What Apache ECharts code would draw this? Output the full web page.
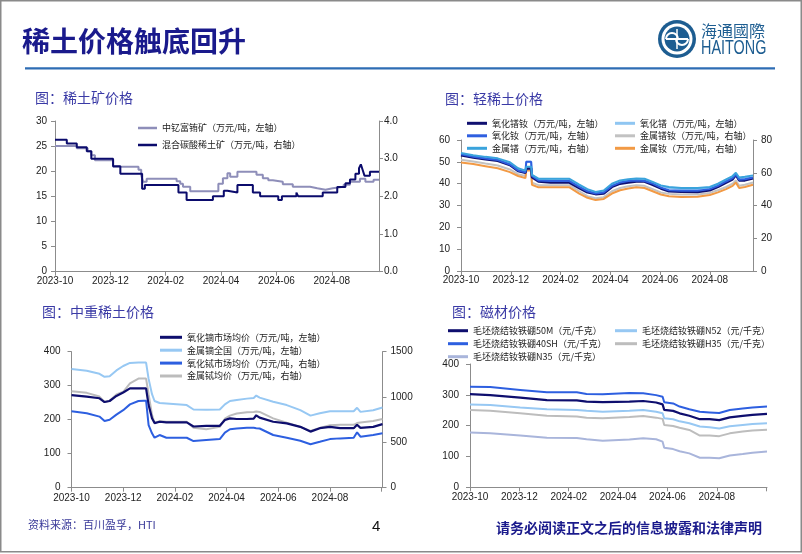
<!DOCTYPE html>
<html><head><meta charset="utf-8">
<script src="https://cdn.jsdelivr.net/npm/echarts@6/dist/echarts.min.js"></script>
<style>html,body{margin:0;padding:0;background:#fff}#c{width:802px;height:554px}</style>
</head><body><div id="c"></div>
<script>
// x values are days since 2023-10-01
const xTickLabels = ['2023-10','2023-12','2024-02','2024-04','2024-06','2024-08'];
const TICK_DAYS = 61;

// ---- Chart 1: 稀土矿价格 ----
const oreDaysA = [0, 24, 36, 40, 44, 64, 92, 95, 97, 101, 134, 138, 141, 149, 174, 180, 185, 190, 193, 201, 218, 222, 229, 235, 240, 251, 262, 278, 281, 289, 298, 300, 306, 318, 325, 336, 342, 351, 357];
const oreYttriumEu = [25, 24.6, 24, 23.2, 22.2, 20.9, 20.3, 19.2, 17.9, 18.5, 18.0, 17.5, 16.9, 16.0, 16.0, 17.5, 18.6, 19.6, 18.9, 19.9, 19.9, 19.3, 18.6, 18.2, 17.9, 17.4, 16.9, 16.9, 16.6, 16.3, 16.3, 16.6, 16.9, 17.3, 17.9, 18.5, 17.9, 18.3, 18.3];
const oreDaysB = [0, 13, 24, 35, 40, 64, 72, 96, 99, 136, 145, 174, 186, 190, 201, 218, 226, 246, 250, 266, 268, 295, 311, 320, 325, 331, 335, 337, 339, 341, 347, 357];
const oreMixedCarbonate = [3.5, 3.4, 3.3, 3.2, 3.0, 2.8, 2.6, 2.2, 2.3, 2.1, 1.9, 2.0, 2.15, 2.1, 2.3, 2.1, 2.0, 1.9, 2.0, 2.1, 2.0, 2.1, 2.25, 2.35, 2.45, 2.6, 2.75, 2.85, 2.7, 2.55, 2.65, 2.65];

// ---- Chart 2: 轻稀土价格 ----
const lightDays = [0, 15, 30, 45, 60, 70, 79, 80, 86, 87, 95, 110, 133, 145, 155, 165, 175, 185, 195, 205, 215, 225, 235, 245, 255, 270, 290, 305, 315, 325, 333, 337, 341, 348, 358];
const prNdOxide = [53, 52, 51.2, 50.5, 48.5, 45.8, 45, 47, 47, 43, 41, 40.5, 40.5, 38, 36, 35.2, 35.5, 38.5, 40, 40.5, 41, 41, 39.5, 37.8, 36.5, 36.3, 36.2, 37, 38.5, 40.5, 42, 44, 41.5, 41.5, 42.5];
const prOxide = [53.5, 52.5, 51.8, 51, 49, 46.5, 45.5, 50, 50, 44, 42, 41.8, 41.8, 39, 37, 36, 36.5, 39.5, 41, 41.5, 42, 41.8, 40.5, 39, 38, 37.5, 37.5, 38, 39.5, 41.5, 43, 44.5, 42.5, 42.5, 43];
const ndOxide = [53.5, 52.3, 51.5, 50.8, 48.8, 46, 45.2, 50, 50, 43.5, 41.5, 41.2, 41.2, 38.5, 36.5, 35.5, 36, 39, 40.5, 41.2, 41.5, 41.2, 40, 38.2, 37, 36.8, 36.8, 37.5, 39, 41, 42.5, 44.3, 41.8, 42, 42.8];
const prNdMetal = [68, 66.9, 65.6, 64.4, 62, 59.1, 58, 62, 62, 54, 52.4, 52.4, 52.4, 48.7, 45.7, 44.4, 45.1, 48.7, 50.7, 51.7, 52.4, 52, 50, 48, 47.1, 46.7, 46.7, 47.7, 49.3, 51.3, 53.3, 55.3, 52, 52.7, 54];
const prMetal = [72, 70.7, 69.7, 68.8, 66.4, 62.7, 61.3, 63.7, 63.7, 58.7, 56.4, 56.3, 56.3, 52.7, 50, 48.3, 49.1, 53.3, 55.3, 56, 56.5, 56.3, 54.4, 52.3, 51.3, 50.7, 50.7, 51.3, 53.3, 56, 58, 60, 57.1, 57.6, 58.4];
const ndMetal = [66.3, 65.3, 64, 62.7, 60.4, 58, 56.7, 61.3, 61.3, 52.7, 51.1, 51.1, 51.1, 47.3, 44.7, 43.3, 44, 47.3, 49.3, 50.4, 51.1, 50.7, 48.7, 46.7, 45.6, 45.2, 45.3, 46.4, 48, 50, 52, 54, 50.7, 51.3, 52.7];

// ---- Chart 3: 中重稀土价格 ----
const heavyDays = [0, 18, 33, 39, 45, 53, 61, 69, 79, 85, 88, 91, 95, 98, 104, 112, 136, 144, 159, 175, 181, 187, 195, 207, 215, 218, 222, 238, 254, 270, 282, 293, 305, 317, 333, 337, 341, 356, 367];
const dyOxide = [272, 268, 263, 252, 255, 270, 280, 292, 292, 292, 292, 243, 204, 190, 194, 192, 192, 180, 182, 182, 199, 204, 202, 202, 203, 213, 206, 194, 189, 179, 165, 175, 179, 175, 175, 185, 176, 179, 187];
const dyMetal = [349, 344, 335, 326, 328, 345, 358, 367, 368, 368, 368, 320, 275, 255, 249, 248, 243, 230, 229, 230, 245, 255, 258, 262, 264, 271, 265, 253, 243, 228, 212, 219, 225, 225, 225, 235, 223, 228, 236];
const tbOxide = [844, 821, 784, 735, 750, 806, 855, 919, 956, 960, 960, 690, 600, 551, 581, 551, 551, 514, 525, 536, 608, 645, 653, 660, 660, 656, 653, 581, 551, 518, 480, 506, 536, 544, 551, 611, 563, 581, 600];
const tbMetal = [1065, 1046, 1005, 945, 960, 1028, 1058, 1151, 1204, 1204, 1204, 1031, 803, 713, 735, 728, 728, 660, 645, 671, 761, 795, 818, 833, 836, 840, 836, 765, 716, 671, 626, 660, 690, 694, 694, 713, 720, 735, 758];

// ---- Chart 4: 磁材价格 ----
const magnetDays = [0, 25, 62, 95, 132, 144, 164, 197, 214, 230, 238, 240, 251, 259, 271, 284, 296, 308, 321, 337, 349, 367];
const mag50M = [302, 299, 291, 283, 282, 278, 276, 278, 280, 275, 269, 251, 248, 240, 232, 221, 221, 218, 227, 232, 235, 238];
const magN52 = [269, 267, 259, 253, 251, 248, 245, 248, 251, 245, 240, 224, 221, 214, 208, 197, 195, 191, 198, 202, 205, 208];
const mag40SH = [326, 325, 316, 308, 308, 303, 302, 306, 305, 299, 294, 276, 272, 262, 253, 245, 243, 241, 251, 256, 259, 262];
const magH35 = [251, 248, 240, 232, 230, 226, 224, 228, 231, 226, 222, 202, 199, 193, 186, 168, 168, 166, 175, 181, 184, 187];
const magN35 = [178, 175, 168, 161, 160, 156, 151, 155, 159, 156, 148, 128, 124, 117, 110, 96, 96, 94, 103, 108, 112, 116];

const NUM_FONT = '"Liberation Sans", Arial, sans-serif';
const CJK = '"Noto Sans CJK SC", sans-serif';
const AX = '#8c8c8c';

function pairs(days, vals) { return days.map((d, i) => [d, vals[i]]); }

function xAxis(gi, max, margin) {
  return {
    type: 'value', gridIndex: gi, min: 0, max: max, interval: TICK_DAYS,
    axisLine: { show: true, onZero: false, lineStyle: { color: AX, width: 1 } },
    axisTick: { show: true, length: 4, lineStyle: { color: AX } },
    splitLine: { show: false },
    axisLabel: {
      margin: margin, fontSize: 10, color: '#222', fontFamily: NUM_FONT, showMaxLabel: false,
      formatter: function (v) {
        const i = Math.round(v / TICK_DAYS);
        return Math.abs(v - i * TICK_DAYS) < 0.01 ? (xTickLabels[i] || '') : '';
      }
    }
  };
}
function yAxis(gi, pos, max, interval, margin, fmt) {
  return {
    type: 'value', gridIndex: gi, position: pos, min: 0, max: max, interval: interval,
    axisLine: { show: true, lineStyle: { color: AX, width: 1 } },
    axisTick: { show: true, length: 4, lineStyle: { color: AX } },
    splitLine: { show: false },
    axisLabel: { margin: margin, fontSize: 10, color: '#222', fontFamily: NUM_FONT, formatter: fmt || (v => String(v)) }
  };
}
function line(name, xi, yi, data, color, width, step) {
  return {
    type: 'line', name: name, xAxisIndex: xi, yAxisIndex: yi, data: data,
    showSymbol: false, symbol: 'none', step: step || false,
    lineStyle: { color: color, width: width }, itemStyle: { color: color },
    emphasis: { disabled: true }, silent: true
  };
}
function legend(left, top, gap, w, h, names) {
  return {
    left: left, top: top, orient: 'vertical', itemGap: gap, itemWidth: w, itemHeight: h,
    icon: 'rect', padding: 0, selectedMode: false, data: names,
    textStyle: { fontSize: 9, lineHeight: 11, color: '#222', fontFamily: CJK }
  };
}

const N1A = '中钇富铕矿（万元/吨，左轴）', N1B = '混合碳酸稀土矿（万元/吨，右轴）';
const N2 = ['氧化镨钕（万元/吨，左轴）', '氧化镨（万元/吨，左轴）', '氧化钕（万元/吨，左轴）', '金属镨钕（万元/吨，右轴）', '金属镨（万元/吨，右轴）', '金属钕（万元/吨，右轴）'];
const N3 = ['氧化镝市场均价（万元/吨，左轴）', '金属镝全国（万元/吨，左轴）', '氧化铽市场均价（万元/吨，右轴）', '金属铽均价（万元/吨，右轴）'];
const N4 = ['毛坯烧结钕铁硼50M（元/千克）', '毛坯烧结钕铁硼N52（元/千克）', '毛坯烧结钕铁硼40SH（元/千克）', '毛坯烧结钕铁硼H35（元/千克）', '毛坯烧结钕铁硼N35（元/千克）'];

const NAVY = '#0e0e6e', LBLUE = '#97c8f3', BLUE = '#2d5fe0', GRAY = '#bcbcbc';

const titleStyle = { fontSize: 14, fontFamily: CJK, fill: '#3a3aa6', textVerticalAlign: 'middle' };

const option = {
  animation: false,
  backgroundColor: '#fff',
  grid: [
    { left: 55, top: 121, width: 324, height: 150.7, outerBoundsMode: 'none' },
    { left: 461, top: 140, width: 292, height: 131, outerBoundsMode: 'none' },
    { left: 71.5, top: 351.7, width: 311, height: 136, outerBoundsMode: 'none' },
    { left: 470, top: 364, width: 297, height: 123.3, outerBoundsMode: 'none' }
  ],
  xAxis: [xAxis(0, 357, 5), xAxis(1, 358, 4), xAxis(2, 367, 6), xAxis(3, 367, 5)],
  yAxis: [
    yAxis(0, 'left', 30, 5, 8),
    yAxis(0, 'right', 4, 1, 5, v => v.toFixed(1)),
    yAxis(1, 'left', 60, 10, 11),
    yAxis(1, 'right', 80, 20, 8),
    yAxis(2, 'left', 400, 100, 11),
    yAxis(2, 'right', 1500, 500, 8),
    yAxis(3, 'left', 400, 100, 11)
  ],
  legend: [
    legend(138, 122.5, 6, 19, 2.5, [N1A, N1B]),
    legend(467, 117.8, 1.5, 20, 3, [N2[0], N2[2], N2[4]]),
    legend(615, 117.8, 1.5, 20, 3, [N2[1], N2[3], N2[5]]),
    legend(160, 331.8, 1.9, 22, 3, N3),
    legend(448, 325.2, 2, 20, 3, [N4[0], N4[2], N4[4]]),
    legend(615, 325.2, 2, 22, 3, [N4[1], N4[3]])
  ],
  series: [
    line(N1A, 0, 0, pairs(oreDaysA, oreYttriumEu), '#8e8eb9', 2, 'end'),
    line(N1B, 0, 1, pairs(oreDaysB, oreMixedCarbonate), '#0b0b6c', 2, 'end'),

    line(N2[1], 1, 2, pairs(lightDays, prOxide), '#8fc6f2', 2),
    line(N2[3], 1, 3, pairs(lightDays, prNdMetal), '#c2c2c2', 2),
    line(N2[5], 1, 3, pairs(lightDays, ndMetal), '#f29a45', 2),
    line(N2[0], 1, 2, pairs(lightDays, prNdOxide), '#101070', 2.5),
    line(N2[2], 1, 2, pairs(lightDays, ndOxide), '#2f5fe0', 2),
    line(N2[4], 1, 3, pairs(lightDays, prMetal), '#3aa3dc', 2),

    line(N3[1], 2, 4, pairs(heavyDays, dyMetal), LBLUE, 2),
    line(N3[3], 2, 5, pairs(heavyDays, tbMetal), GRAY, 2),
    line(N3[0], 2, 4, pairs(heavyDays, dyOxide), NAVY, 2.2),
    line(N3[2], 2, 5, pairs(heavyDays, tbOxide), BLUE, 2),

    line(N4[4], 3, 6, pairs(magnetDays, magN35), '#a9b5db', 2),
    line(N4[3], 3, 6, pairs(magnetDays, magH35), '#bdbdbd', 2),
    line(N4[1], 3, 6, pairs(magnetDays, magN52), LBLUE, 2),
    line(N4[2], 3, 6, pairs(magnetDays, mag40SH), BLUE, 2),
    line(N4[0], 3, 6, pairs(magnetDays, mag50M), NAVY, 2.2)
  ],
  graphic: [
    { type: 'rect', silent: true, shape: { x: 0.75, y: 0.75, width: 800.5, height: 551 }, style: { fill: 'none', stroke: '#8a8a8a', lineWidth: 1.5 } },
    { type: 'text', x: 22, y: 41, style: { text: '稀土价格触底回升', fontSize: 28, fontWeight: 'bold', fontFamily: CJK, fill: '#1a1a8c', textVerticalAlign: 'middle' } },
    { type: 'line', shape: { x1: 25, y1: 68.3, x2: 775, y2: 68.3 }, style: { stroke: '#2e6db4', lineWidth: 2.2 } },
    // logo
    { type: 'circle', shape: { cx: 677, cy: 39, r: 19 }, style: { fill: '#1d5d91' } },
    { type: 'circle', shape: { cx: 677, cy: 39, r: 15.5 }, style: { fill: '#fff' } },
    { type: 'circle', shape: { cx: 677, cy: 39, r: 12.5 }, style: { fill: '#1d5d91' } },
    { type: 'arc', shape: { cx: 672, cy: 39, r: 6, startAngle: Math.PI, endAngle: 2 * Math.PI }, style: { stroke: '#fff', lineWidth: 2, fill: 'none' } },
    { type: 'arc', shape: { cx: 682, cy: 39, r: 6, startAngle: 0, endAngle: Math.PI }, style: { stroke: '#fff', lineWidth: 2, fill: 'none' } },
    { type: 'line', shape: { x1: 666, y1: 39, x2: 688, y2: 39 }, style: { stroke: '#fff', lineWidth: 2 } },
    { type: 'line', shape: { x1: 677, y1: 29, x2: 677, y2: 49 }, style: { stroke: '#fff', lineWidth: 1.5 } },
    { type: 'text', x: 701, y: 31, style: { text: '海通國際', fontSize: 16, fontFamily: CJK, fill: '#1d5d91', textVerticalAlign: 'middle' } },
    { type: 'text', x: 701, y: 48.5, scaleX: 0.72, style: { text: 'HAITONG', fontSize: 20, fontFamily: NUM_FONT, fill: '#1d5d91', textVerticalAlign: 'middle' } },
    // chart titles
    { type: 'text', x: 35, y: 98, style: Object.assign({ text: '图：稀土矿价格' }, titleStyle) },
    { type: 'text', x: 445, y: 99, style: Object.assign({ text: '图：轻稀土价格' }, titleStyle) },
    { type: 'text', x: 42, y: 312, style: Object.assign({ text: '图：中重稀土价格' }, titleStyle) },
    { type: 'text', x: 452, y: 312, style: Object.assign({ text: '图：磁材价格' }, titleStyle) },
    // footer
    { type: 'text', x: 28, y: 525, style: { text: '资料来源：百川盈孚，HTI', fontSize: 11, fontFamily: CJK, fill: '#3a3a99', textVerticalAlign: 'middle' } },
    { type: 'text', x: 372, y: 527, style: { text: '4', fontSize: 15, fontFamily: NUM_FONT, fill: '#111', textVerticalAlign: 'middle' } },
    { type: 'text', x: 496, y: 528, style: { text: '请务必阅读正文之后的信息披露和法律声明', fontSize: 14, fontWeight: 'bold', fontFamily: CJK, fill: '#1a1a8c', textVerticalAlign: 'middle' } }
  ]
};

const chart = echarts.init(document.getElementById('c'), null, { renderer: 'canvas' });
chart.setOption(option);
</script></body></html>
